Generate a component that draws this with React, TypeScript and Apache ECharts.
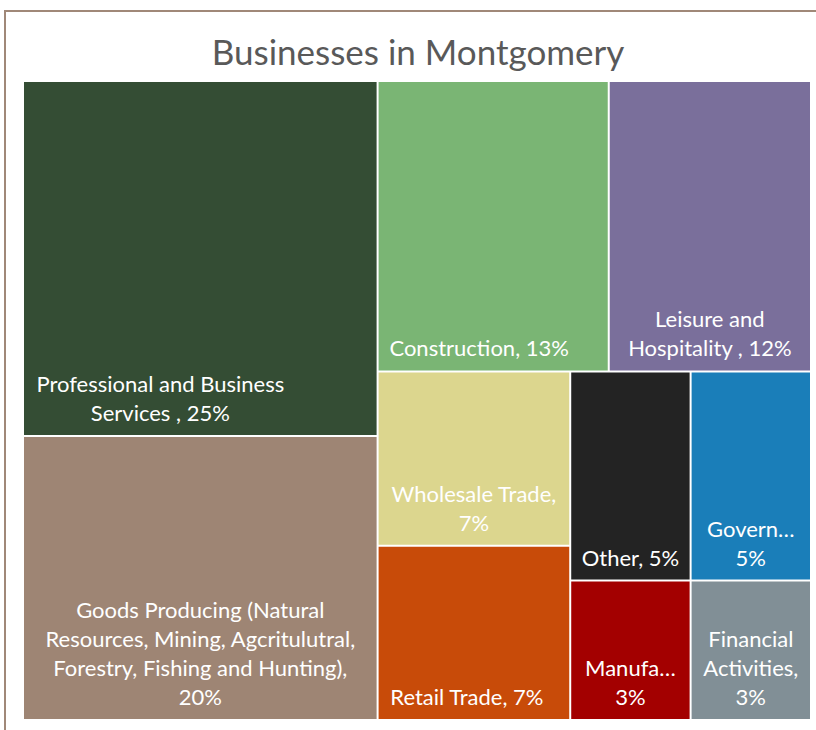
import React, { useEffect, useRef } from "react";
import * as echarts from "echarts";

const categories = [
  "Professional and Business Services",
  "Goods Producing (Natural Resources, Mining, Agcritulutral, Forestry, Fishing and Hunting)",
  "Construction",
  "Leisure and Hospitality",
  "Wholesale Trade",
  "Retail Trade",
  "Other",
  "Government",
  "Manufacturing",
  "Financial Activities",
];
const businesses = [15, 12, 8, 7, 4, 4, 3, 3, 2, 2];
const labelPrefixes = [
  "Professional and Business\nServices , ",
  "Goods Producing (Natural\nResources, Mining, Agcritulutral,\nForestry, Fishing and Hunting),\n",
  "Construction, ",
  "Leisure and\nHospitality , ",
  "Wholesale Trade,\n",
  "Retail Trade, ",
  "Other, ",
  "Govern…\n",
  "Manufa…\n",
  "Financial\nActivities,\n",
];
const colors = [
  "#344d34",
  "#9e8574",
  "#7ab574",
  "#7a6f9b",
  "#dcd68e",
  "#c84b09",
  "#232323",
  "#1a7eb9",
  "#a30000",
  "#818f96",
];
const labelShift: Record<number, number> = { 0: -40, 2: -14, 5: -7 };

const FONT = "Lato";

export default function App() {
  const ref = useRef<HTMLDivElement>(null);
  useEffect(() => {
    if (!ref.current) return;
    const chart = echarts.init(ref.current, undefined, { renderer: "svg" });
    const total = businesses.reduce((a, b) => a + b, 0);
    const data = categories.map((name, i) => ({
      name,
      value: businesses[i],
      itemStyle: { color: colors[i] },
      label: {
        formatter: () =>
          labelPrefixes[i] + Math.round((businesses[i] / total) * 100) + "%",
        offset: [labelShift[i] || 0, 0],
      },
    }));
    chart.setOption({
      animation: false,
      backgroundColor: "#ffffff",
      title: {
        text: "Businesses in Montgomery",
        left: 413,
        top: 28,
        textAlign: "center",
        textStyle: {
          fontFamily: FONT,
          fontSize: 35,
          fontWeight: "normal",
          color: "#595959",
        },
      },
      graphic: [
        {
          type: "rect",
          shape: { x: 5, y: 11, width: 900, height: 900 },
          style: { fill: "none", stroke: "#a08878", lineWidth: 2 },
          silent: true,
        },
      ],
      series: [
        {
          type: "treemap",
          left: 24,
          top: 82,
          width: 786,
          height: 637,
          roam: false,
          nodeClick: false,
          breadcrumb: { show: false },
          sort: false,
          squareRatio: 1,
          itemStyle: { borderWidth: 0, gapWidth: 2, borderColor: "#ffffff" },
          label: {
            show: true,
            position: "insideBottom",
            distance: 8,
            padding: 0,
            color: "#ffffff",
            fontFamily: FONT,
            fontSize: 22,
            lineHeight: 29,
            align: "center",
            overflow: "none",
          },
          emphasis: { disabled: true },
          data,
        },
      ],
    });
    return () => chart.dispose();
  }, []);
  return (
    <div
      ref={ref}
      style={{ position: "fixed", left: 0, top: 0, width: 816, height: 730 }}
    />
  );
}
